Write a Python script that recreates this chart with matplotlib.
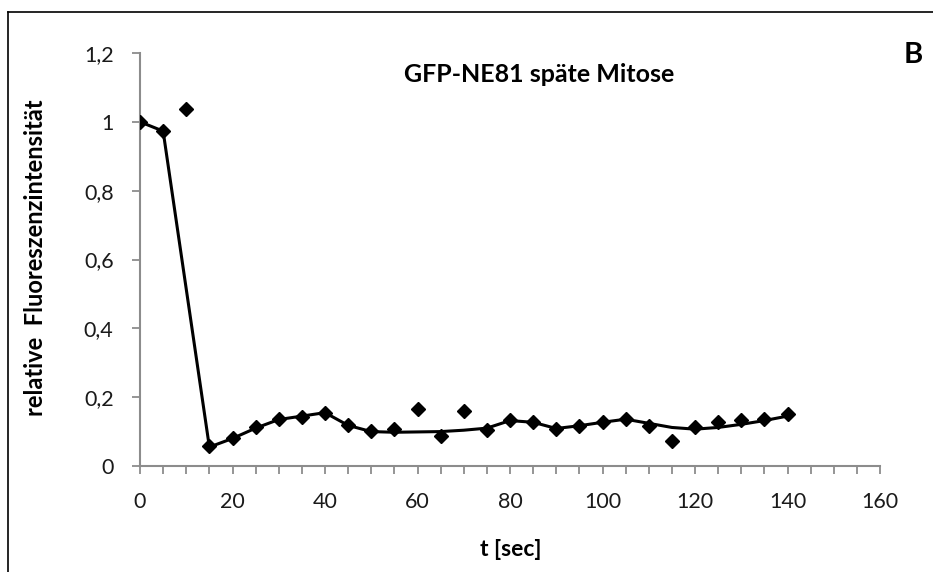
import numpy
import matplotlib.pyplot as plt
import matplotlib.lines as lines

plt.rcParams['font.family'] = ['Lato', 'DejaVu Sans']

# measured points
t_points = [0, 5, 10, 15, 20, 25, 30, 35, 40, 45, 50, 55, 60, 65, 70, 75, 80, 85,
            90, 95, 100, 105, 110, 115, 120, 125, 130, 135, 140]
i_points = [1.0, 0.973, 1.037, 0.058, 0.08, 0.112, 0.136, 0.143, 0.155, 0.119, 0.102,
            0.107, 0.165, 0.087, 0.16, 0.105, 0.134, 0.127, 0.107, 0.117, 0.129,
            0.137, 0.117, 0.073, 0.114, 0.129, 0.134, 0.137, 0.15]

# fitted line
t_line = [0, 5, 15, 20, 25, 30, 35, 40, 45, 50, 55, 60, 65, 70, 75, 80, 85, 90,
          95, 100, 105, 110, 115, 120, 125, 130, 135, 140]
i_line = [1.0, 0.973, 0.055, 0.08, 0.11, 0.135, 0.145, 0.155, 0.118, 0.1, 0.098,
          0.099, 0.1, 0.104, 0.11, 0.132, 0.127, 0.109, 0.117, 0.127, 0.136, 0.124,
          0.112, 0.107, 0.112, 0.121, 0.132, 0.145]

x_ticks = [0, 20, 40, 60, 80, 100, 120, 140, 160]
y_ticks = [0, 0.2, 0.4, 0.6, 0.8, 1.0, 1.2]
y_labels = ['0', '0,2', '0,4', '0,6', '0,8', '1', '1,2']

W, H = 933, 572
fig = plt.figure(figsize=(W / 100, H / 100), dpi=100)
ax = fig.add_axes([140 / W, 1 - 466 / H, 740 / W, 413 / H])

ax.plot(t_line, i_line, c='0', lw=2.2, zorder=2)
ax.plot(t_points, i_points, ls='none', marker='D', ms=6.8, c='0', zorder=3)

ax.set_xlim(0, 160)
ax.set_ylim(0, 1.2)
ax.set_xticks(x_ticks)
ax.set_xticks(numpy.arange(0, 161, 5), minor=True)
ax.set_yticks(y_ticks)
ax.set_yticklabels(y_labels)

for s in ['top', 'right']:
    ax.spines[s].set_visible(False)
for s in ['left', 'bottom']:
    ax.spines[s].set_color('#8c8c8c')
    ax.spines[s].set_linewidth(1.5)

ax.tick_params(axis='x', which='both', direction='out', length=6, width=1.3,
               color='#8c8c8c', labelsize=15.5, pad=13, labelcolor='#1a1a1a')
ax.tick_params(axis='y', which='both', direction='out', length=6, width=1.3,
               color='#8c8c8c', labelsize=15.5, pad=13, labelcolor='#1a1a1a')

fig.text(539 / W, 1 - 75 / H, 'GFP-NE81 späte Mitose', ha='center', va='center',
         fontsize=18, fontweight='bold')
fig.text(913 / W, 1 - 55 / H, 'B', ha='center', va='center', fontsize=21, fontweight='bold')
fig.text(36 / W, 1 - 258 / H, 'relative  Fluoreszenzintensität', rotation=90,
         ha='center', va='center', fontsize=17, fontweight='bold')
fig.text(511 / W, 1 - 550 / H, 't [sec]', ha='center', va='center',
         fontsize=16.5, fontweight='bold')

# outer frame of the figure panel
fig.add_artist(lines.Line2D([8 / W, 8 / W], [0, 1 - 12 / H], c='0', lw=1.2))
fig.add_artist(lines.Line2D([8 / W, 1], [1 - 12 / H, 1 - 12 / H], c='0', lw=1.2))

plt.savefig('out.png', dpi=100)
